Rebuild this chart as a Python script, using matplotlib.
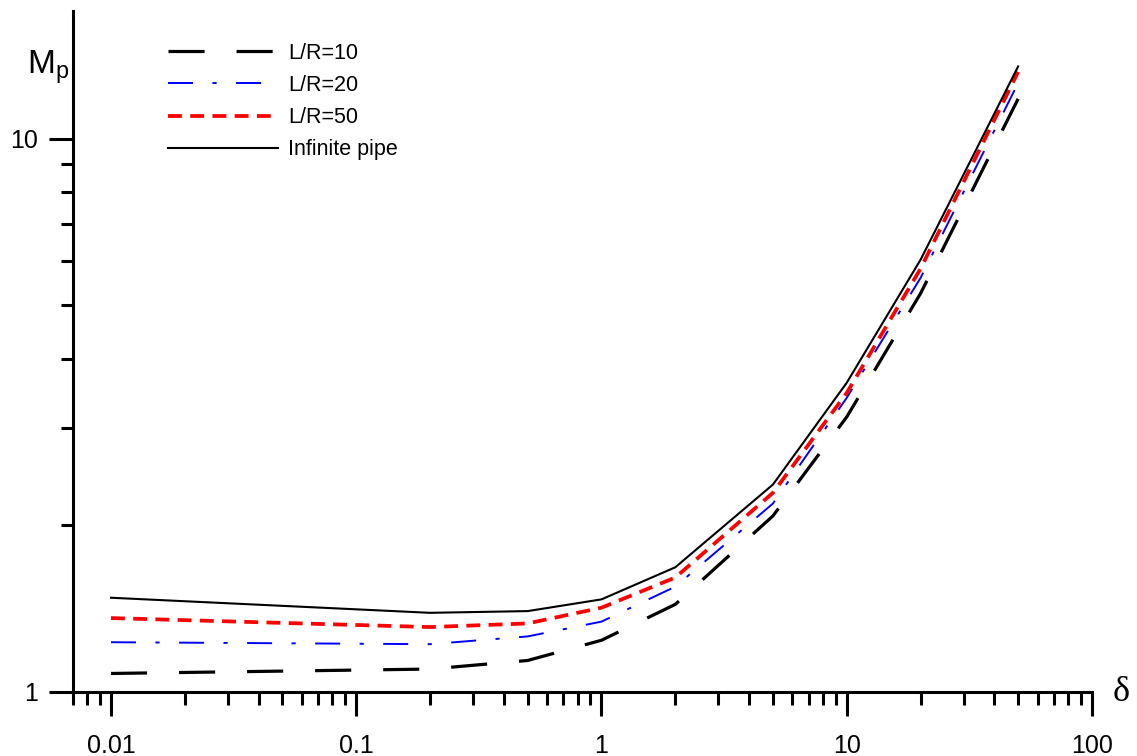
import matplotlib
matplotlib.use("Agg")
import matplotlib.pyplot as plt
from matplotlib.ticker import LogLocator, FixedLocator, FixedFormatter, NullFormatter

plt.rcParams["font.family"] = ["Liberation Sans", "DejaVu Sans"]
plt.rcParams["lines.scale_dashes"] = False

# delta values (x) and M_p for each case
delta = [0.01, 0.2, 0.5, 1, 2, 5, 10, 20, 50]
mp_lr10 = [1.08, 1.10, 1.14, 1.24, 1.44, 2.08, 3.14, 5.25, 11.8]
mp_lr20 = [1.23, 1.22, 1.26, 1.34, 1.55, 2.19, 3.40, 5.6, 12.6]
mp_lr50 = [1.36, 1.31, 1.33, 1.42, 1.61, 2.29, 3.47, 5.82, 13.2]
mp_inf = [1.48, 1.39, 1.40, 1.47, 1.68, 2.37, 3.62, 6.04, 13.5]

x_ticks = [0.01, 0.1, 1, 10, 100]
x_labels = ["0.01", "0.1", "1", "10", "100"]
y_ticks = [1, 10]
y_labels = ["1", "10"]

fig = plt.figure(figsize=(11.37, 7.56), dpi=100)
ax = fig.add_axes([0.0642, 0.0847, 0.8962, 0.9007])

ax.plot(delta, mp_lr10, color="black", lw=2.3, linestyle=(0, (26, 23)),
        label="L/R=10", solid_capstyle="butt")
ax.plot(delta, mp_lr20, color="#0000ff", lw=1.4, linestyle=(0, (18, 14, 3, 14)),
        label="L/R=20")
ax.plot(delta, mp_lr50, color="#ff0000", lw=2.7, linestyle=(0, (10, 6)),
        label="L/R=50")
ax.plot(delta, mp_inf, color="black", lw=1.5, label="Infinite pipe")

ax.set_xscale("log")
ax.set_yscale("log")
ax.set_xlim(0.0070, 100)
ax.set_ylim(1, 17.0)

for side in ("top", "right"):
    ax.spines[side].set_visible(False)
for side in ("left", "bottom"):
    ax.spines[side].set_linewidth(2.2)

ax.xaxis.set_major_locator(FixedLocator(x_ticks))
ax.xaxis.set_major_formatter(FixedFormatter(x_labels))
ax.xaxis.set_minor_locator(LogLocator(base=10, subs=range(2, 10), numticks=20))
ax.xaxis.set_minor_formatter(NullFormatter())
ax.yaxis.set_major_locator(FixedLocator(y_ticks))
ax.yaxis.set_major_formatter(FixedFormatter(y_labels))
ax.yaxis.set_minor_locator(LogLocator(base=10, subs=range(2, 10), numticks=20))
ax.yaxis.set_minor_formatter(NullFormatter())

ax.tick_params(which="major", direction="out", length=17, width=2.2, labelsize=18)
ax.tick_params(which="minor", direction="out", length=9, width=2.2)
ax.tick_params(axis="x", which="major", pad=13)
ax.tick_params(axis="y", which="major", pad=8)

leg = ax.legend(loc="upper left", bbox_to_anchor=(0.0845, 0.966), frameon=False,
                fontsize=15.5, handlelength=5.1, handletextpad=0.5,
                labelspacing=0.52, borderaxespad=0)

fig.text(0.024, 0.903, r"M$_\mathregular{p}$", fontsize=24, ha="left", va="baseline")
fig.text(0.979, 0.084, "δ", fontsize=26, family="Liberation Serif",
         ha="left", va="center")

fig.savefig("out.png", dpi=100)
